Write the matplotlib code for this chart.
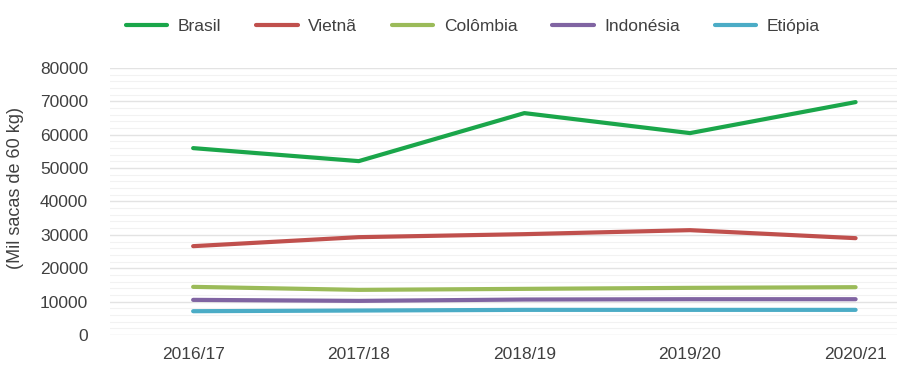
import numpy as np
import matplotlib.pyplot as plt
from matplotlib.ticker import MultipleLocator

plt.rcParams['font.family'] = ['Liberation Sans', 'DejaVu Sans']

safras = ['2016/17', '2017/18', '2018/19', '2019/20', '2020/21']
brasil = [56000, 52100, 66500, 60500, 69800]
vietna = [26600, 29300, 30200, 31400, 29000]
colombia = [14400, 13500, 13800, 14100, 14300]
indonesia = [10500, 10200, 10600, 10700, 10700]
etiopia = [7100, 7300, 7500, 7500, 7500]

series = [
    ('Brasil', brasil, '#1aa64a'),
    ('Vietnã', vietna, '#c0504d'),
    ('Colômbia', colombia, '#9bbb59'),
    ('Indonésia', indonesia, '#8064a2'),
    ('Etiópia', etiopia, '#4bacc6'),
]

fig = plt.figure(figsize=(8.97, 3.68), dpi=100)
ax = fig.add_axes([0.123, 0.09, 0.877, 0.725])

x = np.arange(len(safras))
for nome, vals, cor in series:
    ax.plot(x, vals, color=cor, lw=3, label=nome, solid_capstyle='round')

ax.set_ylim(0, 80000)
ax.set_xlim(-0.5, 4.25)
ax.yaxis.set_major_locator(MultipleLocator(10000))
ax.yaxis.set_minor_locator(MultipleLocator(2000))
ax.grid(axis='y', which='major', color='#e3e3e3', lw=1)
ax.grid(axis='y', which='minor', color='#f2f2f2', lw=0.8)
ax.set_axisbelow(True)
ax.set_xticks(x)
ax.set_xticklabels(safras)
ax.tick_params(which='both', length=0, colors='#404040', labelsize=12.5)
ax.tick_params(axis='y', pad=16)
ax.tick_params(axis='x', pad=9)
for s in ax.spines.values():
    s.set_visible(False)
ax.set_ylabel('(Mil sacas de 60 kg)', fontsize=13, color='#404040')
ax.yaxis.set_label_coords(-0.11, 0.55)

fig.legend(loc='center', bbox_to_anchor=(0.527, 0.927), ncol=5, frameon=False,
           fontsize=12.5, labelcolor='#404040', handlelength=2.4, columnspacing=2.0,
           handletextpad=0.6)

fig.savefig('out.png', dpi=100)
